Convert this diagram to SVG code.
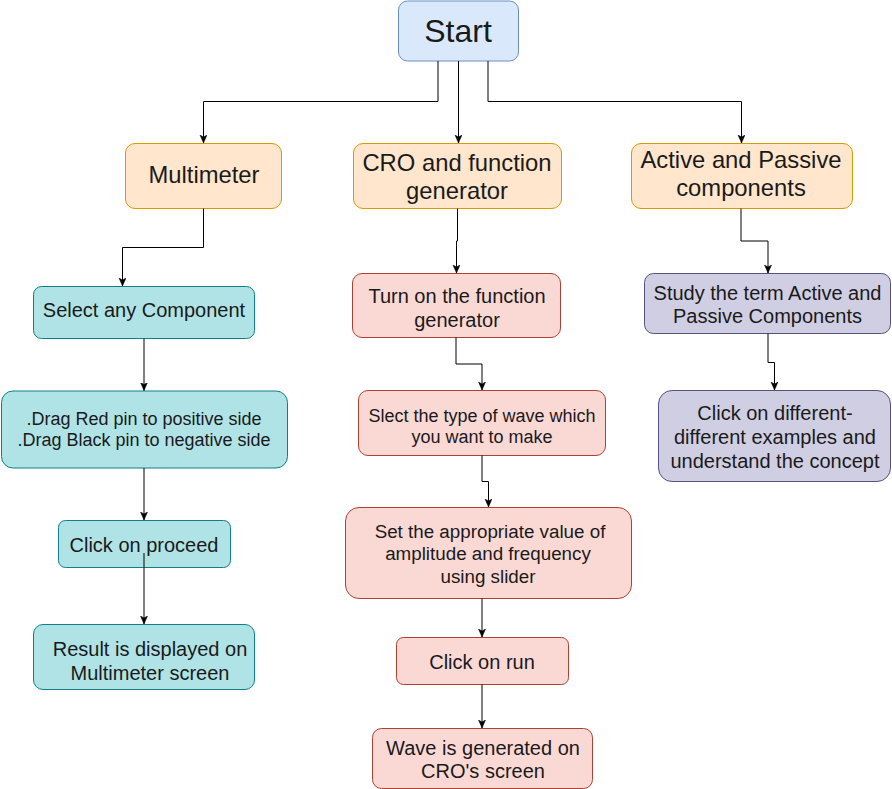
<svg xmlns="http://www.w3.org/2000/svg" width="892" height="789" viewBox="0 0 892 789">
<defs>
<marker id="arr" markerUnits="userSpaceOnUse" markerWidth="10" markerHeight="10" refX="8" refY="3.5" orient="auto">
<path d="M0,0 L8,3.5 L0,7 L2,3.5 Z" fill="#000" stroke="#000" stroke-width="0.5"/>
</marker>
<style>
text{font-family:"Liberation Sans",Arial,sans-serif;fill:#1a1a1a;text-anchor:middle}
.t20{font-size:20px}.t18{font-size:18px}.t19{font-size:18.8px}.t24{font-size:23.8px}.t32{font-size:32px}
.blue{fill:#dae8fc;stroke:#6c8ebf}
.orange{fill:#ffe6cc;stroke:#d79b00}
.teal{fill:#b0e3e6;stroke:#0e8088}
.red{fill:#fad9d5;stroke:#ae4132}
.purple{fill:#d0cee2;stroke:#56517e}
.edge{fill:none;stroke:#000;stroke-width:1;marker-end:url(#arr)}
</style>
</defs>
<rect width="892" height="789" fill="#fff"/>
<g id="start"><rect class="blue" x="398.5" y="1" width="120" height="60" rx="9"/><text class="t32" x="458" y="42">Start</text></g>
<g id="multimeter"><rect class="orange" x="125.5" y="143.5" width="156" height="65" rx="9.5"/><text class="t24" x="204" y="183">Multimeter</text></g>
<g id="cro"><rect class="orange" x="353.5" y="143.5" width="208" height="65" rx="9.5"/><text class="t24" x="457" y="171">CRO and function</text><text class="t24" x="457" y="199">generator</text></g>
<g id="active"><rect class="orange" x="631.5" y="143.5" width="221" height="65" rx="9.5"/><text class="t24" x="741" y="168">Active and Passive</text><text class="t24" x="741" y="196">components</text></g>
<g id="select"><rect class="teal" x="33.5" y="286.5" width="221" height="52" rx="8"/><text class="t20" x="144" y="317">Select any Component</text></g>
<g id="drag"><rect class="teal" x="1.5" y="391" width="286" height="77" rx="11.5"/><text class="t18" x="144" y="425">.Drag Red pin to positive side</text><text class="t18" x="144" y="446">.Drag Black pin to negative side</text></g>
<g id="proceed"><rect class="teal" x="58.5" y="520.5" width="172" height="47" rx="7"/><text class="t20" x="144" y="552">Click on proceed</text></g>
<g id="result"><rect class="teal" x="33.5" y="624.5" width="221" height="65" rx="9.5"/><text class="t20" x="150" y="656">Result is displayed on</text><text class="t20" x="150" y="680">Multimeter screen</text></g>
<g id="turnon"><rect class="red" x="352.5" y="273.5" width="208" height="64" rx="9.5"/><text class="t20" x="457" y="302.5">Turn on the function</text><text class="t20" x="457" y="326.5">generator</text></g>
<g id="slect"><rect class="red" x="358.5" y="390.5" width="247" height="65" rx="9.5"/><text class="t18" x="482" y="422">Slect the type of wave which</text><text class="t18" x="482" y="443">you want to make</text></g>
<g id="set"><rect class="red" x="345.5" y="507.5" width="286" height="91" rx="13.5"/><text class="t19" x="490" y="538">Set the appropriate value of</text><text class="t19" x="488" y="560">amplitude and frequency</text><text class="t19" x="488" y="582.5">using slider</text></g>
<g id="run"><rect class="red" x="396.5" y="637.5" width="172" height="47" rx="7"/><text class="t20" x="482" y="669">Click on run</text></g>
<g id="wave"><rect class="red" x="372.5" y="728.5" width="220" height="60" rx="9"/><text class="t20" x="483" y="754.5">Wave is generated on</text><text class="t20" x="483" y="778">CRO's screen</text></g>
<g id="study"><rect class="purple" x="644.5" y="273.5" width="246" height="60" rx="9"/><text class="t20" x="767.5" y="300">Study the term Active and</text><text class="t20" x="767.5" y="323">Passive Components</text></g>
<g id="clickdiff"><rect class="purple" x="658.5" y="390.5" width="232" height="91" rx="13.5"/><text class="t20" x="775" y="420">Click on different-</text><text class="t20" x="775" y="444">different examples and</text><text class="t20" x="775" y="468">understand the concept</text></g>
<g id="connectors">
<path class="edge" d="M438,61 V101.5 H203.5 V143"/>
<path class="edge" d="M458.5,61 V143"/>
<path class="edge" d="M488,61 V101.5 H741.5 V143"/>
<path class="edge" d="M203.5,208.5 V247.5 H122.5 V286"/>
<path class="edge" d="M457.5,208.5 V241 H456.5 V273"/>
<path class="edge" d="M741,208.5 V241 H768 V273"/>
<path class="edge" d="M144,338.5 V390.5"/>
<path class="edge" d="M144,468 V520"/>
<path class="edge" d="M144,553 V624"/>
<path class="edge" d="M456,337.5 V364 H482 V390"/>
<path class="edge" d="M482,455.5 V481.5 H488.5 V507"/>
<path class="edge" d="M482,598.5 V637"/>
<path class="edge" d="M482,684.5 V728"/>
<path class="edge" d="M768,333.5 V362.5 H774.5 V390"/>
</g>
</svg>
